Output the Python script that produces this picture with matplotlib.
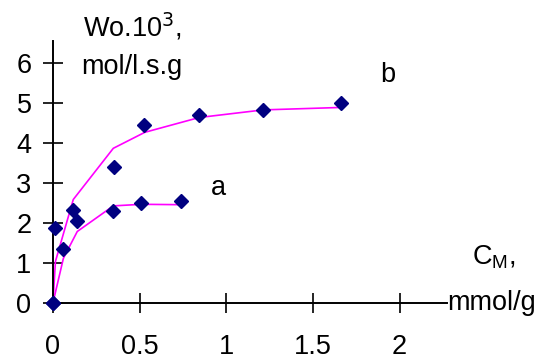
import matplotlib
matplotlib.use("Agg")
import matplotlib.pyplot as plt

plt.rcParams['font.family'] = ['Liberation Sans', 'DejaVu Sans']

# measured points
a_x = [0, 0.06, 0.14, 0.348, 0.51, 0.74]
a_y = [0, 1.34, 2.04, 2.30, 2.50, 2.54]
b_x = [0, 0.01, 0.117, 0.35, 0.527, 0.842, 1.213, 1.662]
b_y = [0, 1.86, 2.32, 3.40, 4.44, 4.69, 4.82, 5.0]

# fitted curves
fit_a_x = [0, 0.06, 0.14, 0.348, 0.51, 0.74]
fit_a_y = [0, 1.11, 1.78, 2.42, 2.46, 2.45]
fit_b_x = [0, 0.014, 0.117, 0.348, 0.53, 0.844, 1.213, 1.652]
fit_b_y = [0, 1.03, 2.58, 3.86, 4.26, 4.63, 4.82, 4.88]

xticks = [0, 0.5, 1, 1.5, 2]
yticks = [0, 1, 2, 3, 4, 5, 6]

fs = 19.5
fig = plt.figure(figsize=(5.45, 3.59), dpi=100)
W, H = 545, 359
ax = fig.add_axes([53 / W, (H - 302.7) / H, 394 / W, (302.7 - 41) / H])
ax.set_xlim(0, 394 / 173.3)
ax.set_ylim(0, (302.7 - 41) / 40)

ax.plot(fit_a_x, fit_a_y, color='#FF00FF', lw=1.2, clip_on=False)
ax.plot(fit_b_x, fit_b_y, color='#FF00FF', lw=1.2, clip_on=False)
ax.plot(a_x, a_y, 'D', color='#000080', ms=7, clip_on=False, zorder=5)
ax.plot(b_x, b_y, 'D', color='#000080', ms=7, clip_on=False, zorder=5)

for s in ['top', 'right']:
    ax.spines[s].set_visible(False)
for s in ['left', 'bottom']:
    ax.spines[s].set_linewidth(1.4)
ax.set_xticks(xticks)
ax.set_xticklabels(['0', '0.5', '1', '1.5', '2'])
ax.set_yticks(yticks)
ax.tick_params(direction='inout', length=15, width=1.2, labelsize=fs)
ax.tick_params(axis='x', pad=15)
ax.tick_params(axis='y', pad=8)

ax.text(1.93, 5.69, 'b', fontsize=fs, ha='center', va='center')
ax.text(0.954, 2.86, 'a', fontsize=fs, ha='center', va='center')

fig.text(83 / W, 1 - 27 / H, 'Wo.10$^3$,', fontsize=fs, ha='left', va='center')
fig.text(81 / W, 1 - 67 / H, 'mol/l.s.g', fontsize=fs, ha='left', va='center')
fig.text(472 / W, 1 - 257 / H, 'C$_{\\mathregular{M}}$,', fontsize=fs, ha='left', va='center')
fig.text(447 / W, 1 - 303 / H, 'mmol/g', fontsize=fs, ha='left', va='center')

fig.savefig('out.png', dpi=100)
